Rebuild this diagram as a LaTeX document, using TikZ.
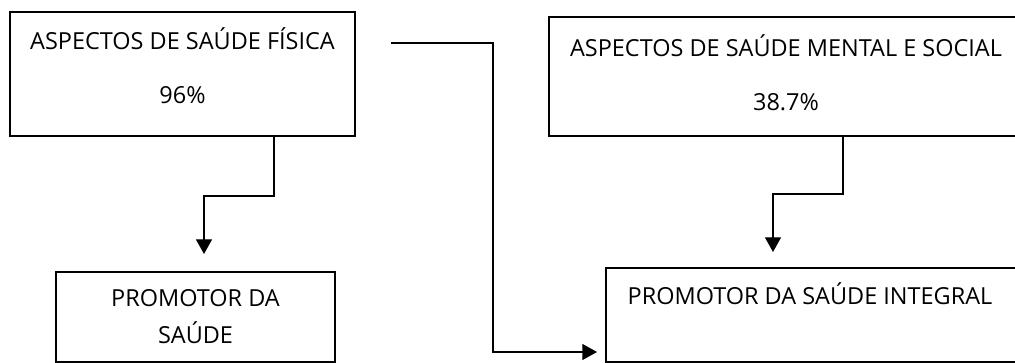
\documentclass[tikz,border=0pt]{standalone}
\usepackage{fontspec}
\setmainfont{Open Sans}
\usetikzlibrary{arrows.meta,positioning,calc}

\begin{document}
\begin{tikzpicture}[
    x=0.75pt, y=-0.75pt,
    font=\fontsize{17.6pt}{20pt}\selectfont,
    box/.style={draw, line width=1.5pt, inner sep=0pt, align=center, minimum width=#1},
    txt/.style={align=center, inner sep=0pt},
    flow/.style={-{Triangle[length=11pt,width=12pt]}, line width=1pt}
]
\useasboundingbox (0,0) rectangle (1015,363);

% ===== BOXES =====
\node[box=258.75pt, minimum height=93pt]    (fis) at (182.5,74)  {};
\node[txt] (fistxt) at ($(fis.center)+(0,-8)$) {ASPECTOS DE SAÚDE FÍSICA\\[20.5pt]96\%};
\node[box=209.25pt, minimum height=67.5pt]  (prom) at (195.5,317) {PROMOTOR DA\\[7.75pt]SAÚDE};
\node[box=355.5pt,  minimum height=89.25pt] (men) at (786,76.5)  {};
\node[txt] (mentxt) at ($(men.center)+(0,-4)$) {ASPECTOS DE SAÚDE MENTAL E SOCIAL\\[20.5pt]38.7\%};
\node[box=310.5pt,  minimum height=70.5pt]  (integ) at (813,315) {};
\node[txt, anchor=base] (integtxt) at ($(integ.north)+(-3,38)$) {PROMOTOR DA SAÚDE INTEGRAL};

% ===== BENDS =====
\coordinate (fisA) at (274,196);
\coordinate (fisB) at (204,196);
\coordinate (menA) at (843,194);
\coordinate (menB) at (773,194);
\coordinate (crossA) at (493,43);
\coordinate (crossB) at (493,352);

% ===== ARROWS =====
\draw[flow, shorten >=12.75pt] (fis.south -| fisA) -- (fisA) -- (fisB) -- (fisB |- prom.north);
\draw[flow, shorten >=11.25pt] (men.south -| menA) -- (menA) -- (menB) -- (menB |- integ.north);
\draw[flow, shorten <=26.25pt, shorten >=6pt] (crossA -| fis.east) -- (crossA) -- (crossB) -- (crossB -| integ.west);

\end{tikzpicture}
\end{document}
